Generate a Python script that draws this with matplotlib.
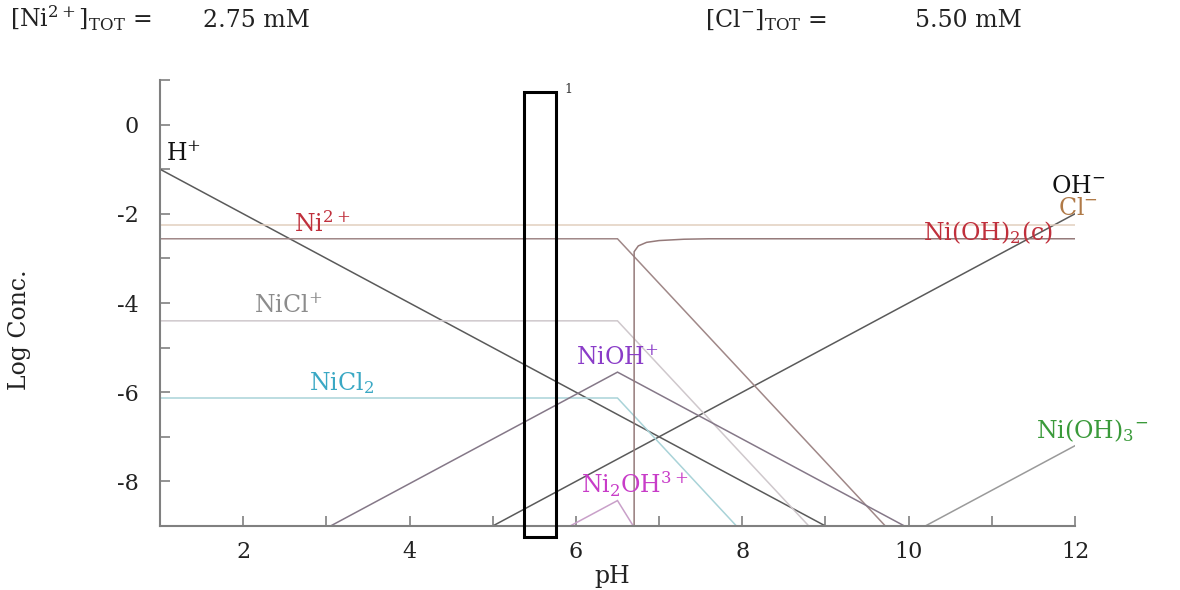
import matplotlib
matplotlib.use("Agg")
import matplotlib.pyplot as plt
from matplotlib.patches import Rectangle

plt.rcParams["font.family"] = ["DejaVu Serif"]
plt.rcParams["mathtext.fontset"] = "dejavuserif"
plt.rcParams["axes.unicode_minus"] = False

# Totals shown in the header
ni_total_mM = 2.75
cl_total_mM = 5.50

# log concentration vs pH for each species (breakpoints)
ph_h = [1, 9]
log_h = [-1, -9]
ph_oh = [5, 12]
log_oh = [-9, -2]
ph_cl = [1, 12]
log_cl = [-2.26, -2.26]
ph_ni = [1, 6.5, 9.72]
log_ni = [-2.56, -2.56, -9]
ph_nicl = [1, 6.5, 8.8]
log_nicl = [-4.40, -4.40, -9]
ph_nicl2 = [1, 6.5, 7.93]
log_nicl2 = [-6.13, -6.13, -9]
ph_nioh = [3.05, 6.5, 9.95]
log_nioh = [-9, -5.55, -9]
ph_ni2oh = [5.93, 6.5, 6.69]
log_ni2oh = [-9, -8.43, -9]
ph_nioh2s = [6.70, 6.70, 6.75, 6.85, 7.0, 7.3, 7.6, 12]
log_nioh2s = [-9, -2.85, -2.72, -2.64, -2.60, -2.57, -2.56, -2.56]
ph_nioh3 = [10.2, 12]
log_nioh3 = [-9, -7.2]

# marked pH window
window_ph = [5.37, 5.76]
window_log = [-9.24, 0.74]
window_tag = "1"

fig = plt.figure(figsize=(11.8, 5.9), dpi=100)
ax = fig.add_axes([160 / 1180, 1 - 526 / 590, 915 / 1180, 446 / 590])

series = [
    (ph_h, log_h, "#5a5a5a"),
    (ph_oh, log_oh, "#5a5a5a"),
    (ph_cl, log_cl, "#e2cfbf"),
    (ph_ni, log_ni, "#a08888"),
    (ph_nicl, log_nicl, "#cfc8cc"),
    (ph_nicl2, log_nicl2, "#a9d3d8"),
    (ph_nioh, log_nioh, "#857888"),
    (ph_ni2oh, log_ni2oh, "#c9a0c9"),
    (ph_nioh2s, log_nioh2s, "#957a7a"),
    (ph_nioh3, log_nioh3, "#9a9a9a"),
]
for xs, ys, c in series:
    ax.plot(xs, ys, color=c, lw=1.1, solid_joinstyle="miter")

ax.add_patch(Rectangle((window_ph[0], window_log[0]), window_ph[1] - window_ph[0],
                       window_log[1] - window_log[0], fill=False, ec="black",
                       lw=2.2, clip_on=False, zorder=5))
ax.text(window_ph[1] + 0.1, window_log[1] + 0.05, window_tag, fontsize=9,
        ha="left", va="center", color="#333333")

ax.set_xlim(1, 12)
ax.set_ylim(-9, 1)
ax.set_xticks(range(1, 13))
ax.set_xticklabels([str(v) if v % 2 == 0 else "" for v in range(1, 13)])
ax.set_yticks(range(-9, 2))
ax.set_yticklabels([str(v) if v % 2 == 0 else "" for v in range(-9, 2)])
for s in ["top", "right"]:
    ax.spines[s].set_visible(False)
for s in ["left", "bottom"]:
    ax.spines[s].set_color("#808080")
    ax.spines[s].set_linewidth(1.5)
ax.tick_params(direction="in", length=7, width=1.2, color="#808080",
               labelsize=16, labelcolor="#222222")
ax.tick_params(axis="y", pad=15)
ax.tick_params(axis="x", pad=11)

labels = [
    (1.07, -0.81, "H$^{+}$", "#111111"),
    (2.61, -2.40, "Ni$^{2+}$", "#c0303c"),
    (2.13, -4.22, "NiCl$^{+}$", "#8c8c8c"),
    (2.79, -5.96, "NiCl$_{2}$", "#3aa8c4"),
    (6.0, -5.39, "NiOH$^{+}$", "#8a3cc8"),
    (6.06, -8.27, "Ni$_{2}$OH$^{3+}$", "#c83cc8"),
    (11.71, -1.53, "OH$^{-}$", "#111111"),
    (11.8, -2.02, "Cl$^{-}$", "#b07a48"),
    (10.17, -2.58, "Ni(OH)$_{2}$(c)", "#c0303c"),
    (11.53, -7.03, "Ni(OH)$_{3}$$^{-}$", "#3a9a3a"),
]
for x, y, t, c in labels:
    ax.text(x, y, t, color=c, fontsize=17, ha="left", va="baseline", zorder=6)

head_y = 1 - 27 / 590
fig.text(10 / 1180, head_y, r"[Ni$^{2+}$]$_{\mathrm{TOT}}$ =", fontsize=17,
         ha="left", va="baseline", color="#222222")
fig.text(203 / 1180, head_y, f"{ni_total_mM:.2f} mM", fontsize=17,
         ha="left", va="baseline", color="#222222")
fig.text(705 / 1180, head_y, r"[Cl$^{-}$]$_{\mathrm{TOT}}$ =", fontsize=17,
         ha="left", va="baseline", color="#222222")
fig.text(915 / 1180, head_y, f"{cl_total_mM:.2f} mM", fontsize=17,
         ha="left", va="baseline", color="#222222")

fig.text(20 / 1180, 1 - 330 / 590, "Log Conc.", rotation=90, fontsize=17,
         ha="center", va="center", color="#222222")
fig.text(612 / 1180, 1 - 576 / 590, "pH", fontsize=17, ha="center",
         va="center", color="#222222")

fig.savefig("out.png", dpi=100)
